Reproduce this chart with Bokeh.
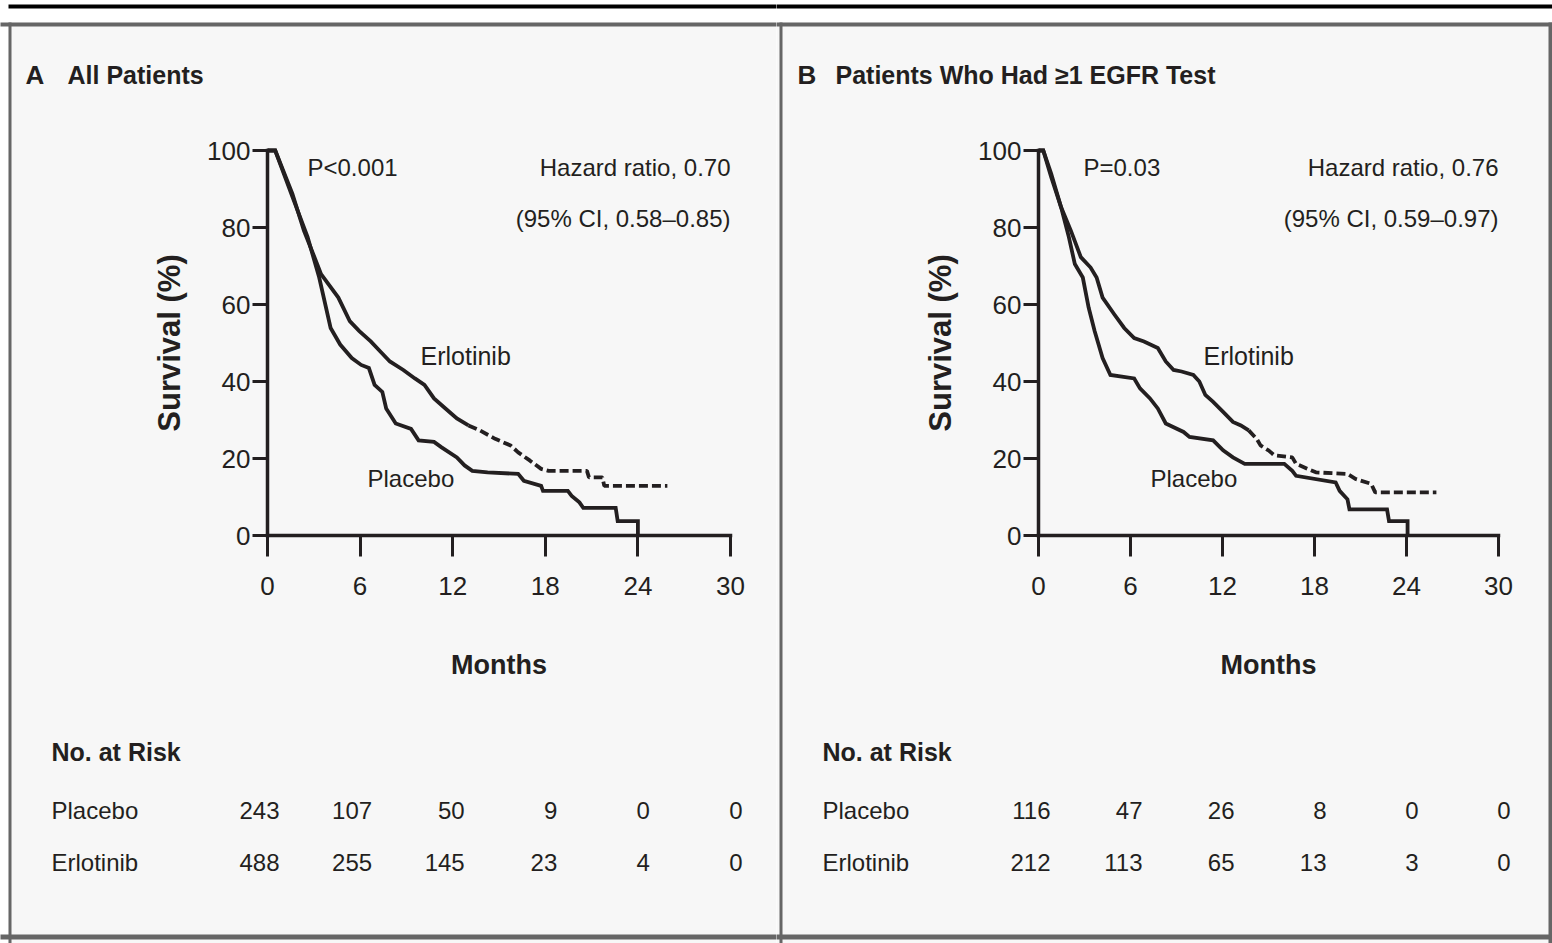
from bokeh.plotting import figure
from bokeh.layouts import row
from bokeh.models import Range1d, FixedTicker, Label, BoxAnnotation
from bokeh.embed import file_html
from bokeh.resources import INLINE

# ---------------- data ----------------
month_ticks = [0, 6, 12, 18, 24, 30]
survival_ticks = [0, 20, 40, 60, 80, 100]
risk_months = [0, 6, 12, 18, 24, 30]

# Panel A: all patients (months, % surviving)
a_erl_t = [0, 0.50, 1.61, 2.36, 3.22, 3.47, 4.59, 5.33, 5.95, 6.69, 7.31, 7.93, 8.80,
           9.55, 10.17, 10.79, 11.53, 12.27, 13.02, 13.76, 14.75, 15.75, 16.24, 16.99,
           17.73, 18.22, 20.70, 20.83, 21.70, 21.82, 25.91]
a_erl_s = [100, 100, 88.8, 79.2, 70.5, 67.9, 61.8, 55.7, 53.1, 50.4, 47.8, 45.2, 43.0,
           40.8, 39.1, 35.6, 33.0, 30.4, 28.6, 27.3, 25.1, 23.4, 21.6, 19.5,
           17.3, 16.8, 16.8, 15.1, 15.1, 12.9, 12.9]
a_pla_t = [0, 0.50, 1.61, 2.60, 3.35, 4.09, 4.71, 5.46, 6.07, 6.57, 6.94, 7.44, 7.69,
           8.31, 9.30, 9.79, 10.79, 11.28, 12.27, 12.77, 13.27, 14.26, 16.24, 16.61,
           17.73, 17.85, 19.46, 19.71, 20.21, 20.46, 22.56, 22.69, 24.0, 24.0]
a_pla_s = [100, 100, 88.0, 77.5, 67.0, 53.9, 49.6, 46.1, 44.3, 43.5, 39.1, 37.3, 33.0,
           29.1, 27.7, 24.7, 24.3, 22.9, 20.3, 18.2, 16.8, 16.4, 16.0, 14.2,
           12.9, 11.6, 11.6, 10.3, 8.6, 7.2, 7.2, 3.75, 3.75, 0]

# Panel B: patients who had >=1 EGFR test
b_erl_t = [0, 0.31, 0.82, 1.47, 2.11, 2.76, 3.40, 3.79, 4.18, 4.95, 5.59, 6.24, 6.88,
           7.78, 8.30, 8.81, 9.33, 10.10, 10.49, 10.88, 11.39, 12.04, 12.68, 13.20,
           13.71, 14.23, 14.48, 15.00, 15.39, 16.55, 16.80, 18.09, 20.15, 20.67,
           21.70, 21.96, 25.95]
b_erl_s = [100, 100, 94.1, 85.3, 79.2, 72.3, 69.6, 67.0, 61.8, 57.4, 53.9, 51.3, 50.4,
           48.7, 45.2, 43.0, 42.6, 41.7, 40.0, 36.5, 34.7, 32.1, 29.5, 28.6,
           27.3, 25.1, 23.4, 22.1, 20.8, 20.3, 18.6, 16.4, 16.0, 14.7,
           13.4, 11.2, 11.2]
b_pla_t = [0, 0.31, 0.82, 1.47, 1.98, 2.37, 2.89, 3.27, 3.66, 4.18, 4.69, 6.24, 6.62,
           7.27, 7.78, 8.30, 9.46, 9.85, 11.39, 12.04, 12.68, 13.45, 16.03, 16.55,
           16.80, 19.38, 19.64, 20.15, 20.28, 22.73, 22.86, 24.07, 24.07]
b_pla_s = [100, 100, 93.2, 85.3, 77.5, 70.5, 67.0, 59.2, 53.1, 46.1, 41.7, 40.8, 38.2,
           35.6, 33.0, 29.1, 26.9, 25.6, 24.7, 22.1, 20.3, 18.6, 18.6, 16.8,
           15.5, 13.8, 11.6, 9.4, 6.8, 6.8, 3.75, 3.75, 0]

a_risk_placebo = [243, 107, 50, 9, 0, 0]
a_risk_erlotinib = [488, 255, 145, 23, 4, 0]
b_risk_placebo = [116, 47, 26, 8, 0, 0]
b_risk_erlotinib = [212, 113, 65, 13, 3, 0]

# ---------------- style ----------------
INK = "#231f20"
BG = "#f7f7f7"
FRAME = "#666666"
FONT = "Liberation Sans"
FS = "24px"
PAGE_H = 943


def split_at(t, s, t0):
    k = next(i for i, v in enumerate(t) if v >= t0)
    return (t[:k + 1], s[:k + 1]), (t[k:], s[k:])


def make_panel(x0, width, fl, fr, ft, fb, cfg):
    """x0: page x of the figure's left edge; fl/fr/ft/fb: page pixels of the 0..30 x 0..100 box."""
    def X(px):
        return (px - fl) * 30.0 / (fr - fl)

    def Y(py):
        return (fb - py) * 100.0 / (fb - ft)

    p = figure(width=width, height=PAGE_H,
               x_range=Range1d(X(x0), X(x0 + width)), y_range=Range1d(Y(PAGE_H), Y(0)),
               output_backend="svg", toolbar_location=None,
               min_border_left=0, min_border_right=0, min_border_top=0, min_border_bottom=0,
               background_fill_color="white", border_fill_color="white",
               outline_line_color=None)
    p.title.visible = False
    p.grid.visible = False

    def box(l, r, t, b, color):
        p.add_layout(BoxAnnotation(left=X(l), right=X(r), top=Y(t), bottom=Y(b),
                                   fill_color=color, fill_alpha=1.0, line_color=None,
                                   line_alpha=0, level="underlay"))

    # panel chrome (page pixels)
    x1 = x0 + width
    box(max(x0 - 2, 8), x1 + 2, 22, 943, BG)
    box(max(x0 - 2, 8), x1 + 2, 4, 8, "black")
    box(x0 - 2, x1 + 2, 22, 26, FRAME)
    box(x0 - 2, x1 + 2, 934, 939, FRAME)
    for (l, r) in cfg["vlines"]:
        box(l, r, 22, 943, FRAME)

    xa = p.xaxis[0]
    ya = p.yaxis[0]
    xa.ticker = FixedTicker(ticks=month_ticks)
    ya.ticker = FixedTicker(ticks=survival_ticks)
    xa.fixed_location = 0
    ya.fixed_location = 0
    xa.bounds = (0, 30)
    ya.bounds = (0, 100)
    for ax in (xa, ya):
        ax.axis_line_width = 3.5
        ax.axis_line_color = INK
        ax.axis_line_cap = "square"
        ax.major_tick_line_width = 3
        ax.major_tick_line_color = INK
        ax.major_tick_in = 0
        ax.minor_tick_in = 0
        ax.minor_tick_out = 0
        ax.major_label_text_font = FONT
        ax.major_label_text_font_size = "26px"
        ax.major_label_text_color = INK
        ax.axis_label_text_font = FONT
        ax.axis_label_text_font_style = "bold"
        ax.axis_label_text_color = INK
    xa.major_tick_out = 21
    xa.major_label_standoff = 20
    xa.axis_label = "Months"
    xa.axis_label_text_font_size = "27px"
    xa.axis_label_standoff = 52
    ya.major_tick_out = 15
    ya.major_label_standoff = 2
    ya.axis_label = "Survival (%)"
    ya.axis_label_text_font_size = "31px"
    ya.axis_label_standoff = 17

    # curves
    (et1, es1), (et2, es2) = split_at(cfg["erl_t"], cfg["erl_s"], cfg["dash_from"])
    p.line(et1, es1, line_width=3.8, line_color=INK, line_join="miter")
    p.line(et2, es2, line_width=3.8, line_color=INK, line_dash="9 4")
    p.line(cfg["pla_t"], cfg["pla_s"], line_width=3.8, line_color=INK, line_join="miter")

    def lab(x, y, text, align="left", size=FS, style="normal"):
        p.add_layout(Label(x=X(x), y=Y(y), text=text, text_font=FONT,
                           text_font_size=size, text_font_style=style, text_color=INK,
                           text_align=align, text_baseline="middle"))

    lab(cfg["letter_x"], 74, cfg["letter"], style="bold", size="26px")
    lab(cfg["title_x"], 74, cfg["title"], style="bold", size="25px")
    lab(cfg["p_x"], 167, cfg["p_text"])
    lab(fr, 167, cfg["hr"], align="right")
    lab(fr, 218, cfg["ci"], align="right")
    lab(cfg["erl_lab"][0], cfg["erl_lab"][1], "Erlotinib", size="25px")
    lab(cfg["pla_lab"][0], cfg["pla_lab"][1], "Placebo")

    # number at risk
    tx = cfg["table_x"]
    lab(tx, 751, "No. at Risk", style="bold", size="25px")
    lab(tx, 810, "Placebo")
    lab(tx, 862, "Erlotinib")
    for m, n1, n2 in zip(risk_months, cfg["risk_pla"], cfg["risk_erl"]):
        for n, yy in ((n1, 810), (n2, 862)):
            p.add_layout(Label(x=m, y=Y(yy), text=str(n), text_font=FONT,
                               text_font_size=FS, text_color=INK, text_align="right",
                               text_baseline="middle", x_offset=12))
    return p


cfg_a = dict(erl_t=a_erl_t, erl_s=a_erl_s, pla_t=a_pla_t, pla_s=a_pla_s, dash_from=13.0,
             letter="A", letter_x=25, title="All Patients", title_x=67,
             p_x=307, p_text="P<0.001",
             hr="Hazard ratio, 0.70", ci="(95% CI, 0.58\u20130.85)",
             erl_lab=(420, 355), pla_lab=(367, 478),
             table_x=51, risk_pla=a_risk_placebo, risk_erl=a_risk_erlotinib,
             vlines=[(8, 11)])
cfg_b = dict(erl_t=b_erl_t, erl_s=b_erl_s, pla_t=b_pla_t, pla_s=b_pla_s, dash_from=13.7,
             letter="B", letter_x=797, title="Patients Who Had \u22651 EGFR Test", title_x=835,
             p_x=1083, p_text="P=0.03",
             hr="Hazard ratio, 0.76", ci="(95% CI, 0.59\u20130.97)",
             erl_lab=(1203, 355), pla_lab=(1150, 478),
             table_x=822, risk_pla=b_risk_placebo, risk_erl=b_risk_erlotinib,
             vlines=[(779, 782), (1548, 1552)])

pa = make_panel(0, 776, 267, 730, 150, 535, cfg_a)
pb = make_panel(776, 776, 1038, 1498, 150, 535, cfg_b)

layout = row(pa, pb, spacing=0)
open("out.html", "w").write(file_html(layout, INLINE))
